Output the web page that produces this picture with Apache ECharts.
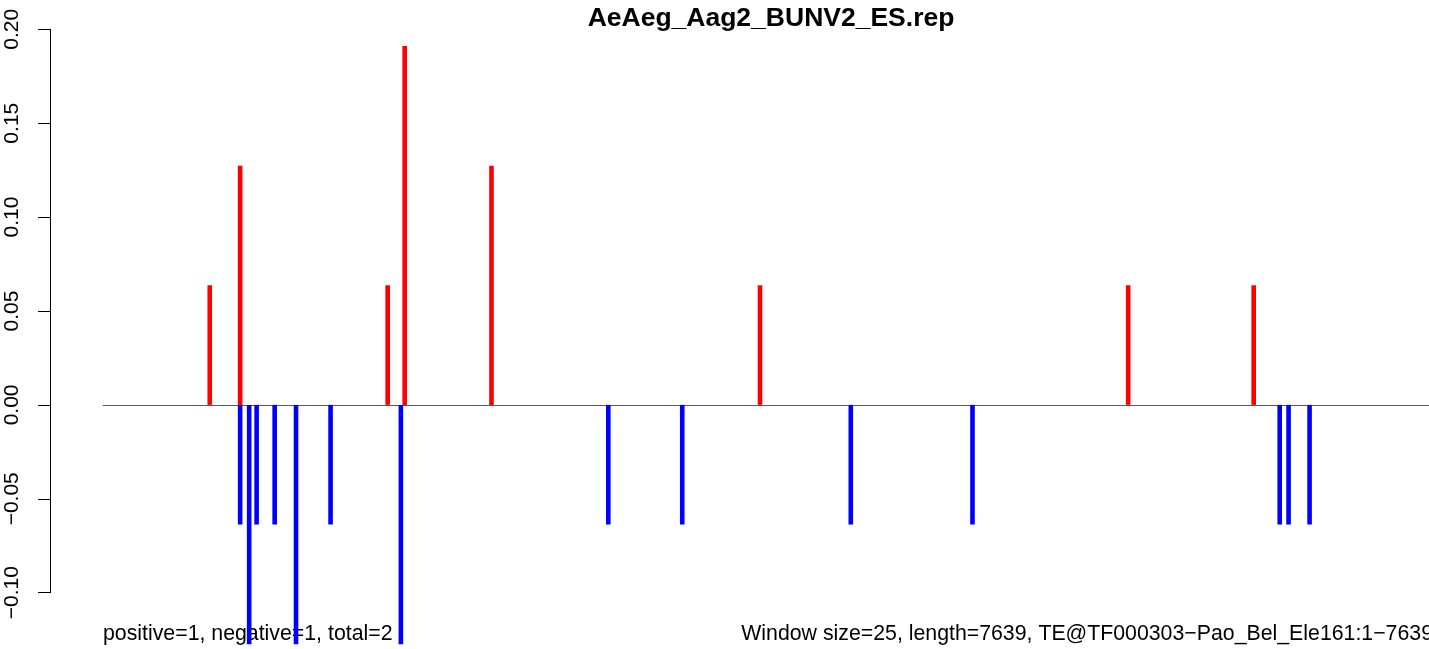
<!DOCTYPE html>
<html>
<head>
<meta charset="utf-8">
<script src="https://cdn.jsdelivr.net/npm/echarts@6/dist/echarts.min.js"></script>
<style>
html,body{margin:0;padding:0;background:#fff;}
#chart{width:1429px;height:649px;}
</style>
</head>
<body>
<div id="chart"></div>
<script>
// ---- data ----
const titleText = 'AeAeg_Aag2_BUNV2_ES.rep';
const leftNote = 'positive=1, negative=1, total=2';
const rightNote = 'Window size=25, length=7639, TE@TF000303\u2212Pao_Bel_Ele161:1\u22127639';
const seqLength = 7639;
const yTicks = [-0.10, -0.05, 0.00, 0.05, 0.10, 0.15, 0.20];
const redPos = [615, 790, 1640, 1738, 2238, 3785, 5906, 6629];
const redVal = [0.0637, 0.1274, 0.0637, 0.1911, 0.1274, 0.0637, 0.0637, 0.0637];
const bluePos = [790, 842, 885, 989, 1112, 1311, 1716, 2911, 3337, 4308, 5009, 6779, 6830, 6951];
const blueVal = [-0.0637, -0.1274, -0.0637, -0.0637, -0.1274, -0.0637, -0.1274,
                 -0.0637, -0.0637, -0.0637, -0.0637, -0.0637, -0.0637, -0.0637];

const FONT = 'Liberation Sans, Arial, Helvetica, sans-serif';
const chart = echarts.init(document.getElementById('chart'), null, {renderer: 'canvas'});

function pairs(xs, ys) { return xs.map((x, i) => [x, ys[i]]); }

chart.setOption({
  backgroundColor: '#ffffff',
  animation: false,
  title: {
    text: titleText,
    left: 766, top: 0, textAlign: 'center',
    textStyle: {fontFamily: FONT, fontSize: 26.5, fontWeight: 'bold', color: '#000'}
  },
  grid: {left: 103, right: -3, top: 29.3, bottom: 56.3, containLabel: false},
  xAxis: {
    type: 'value', min: 0, max: seqLength,
    axisLine: {show: true, onZero: true, lineStyle: {color: '#5a5a5a', width: 1}},
    axisTick: {show: false}, axisLabel: {show: false}, splitLine: {show: false}
  },
  yAxis: {
    type: 'value', min: yTicks[0], max: yTicks[yTicks.length - 1], interval: 0.05,
    offset: 53,
    axisLine: {show: true, onZero: false, lineStyle: {color: '#000', width: 1}},
    axisTick: {show: true, length: 12, lineStyle: {color: '#000', width: 1}},
    axisLabel: {
      show: true, rotate: 90, margin: 27,
      fontFamily: FONT, fontSize: 21, color: '#000',
      formatter: v => v.toFixed(2).replace('-', '\u2212')
    },
    splitLine: {show: false}
  },
  series: [
    {type: 'bar', name: 'positive', data: pairs(redPos, redVal), barWidth: 4.6, barGap: '-100%',
     clip: false, itemStyle: {color: '#ff0000'}},
    {type: 'bar', name: 'negative', data: pairs(bluePos, blueVal), barWidth: 4.6, barGap: '-100%',
     clip: false, itemStyle: {color: '#0000ff'}}
  ],
  graphic: [
    {type: 'text', left: 103, top: 624,
     style: {text: leftNote, font: '21.3px ' + FONT, fill: '#000'}},
    {type: 'text', right: -4, top: 624,
     style: {text: rightNote, font: '21.3px ' + FONT, fill: '#000'}}
  ]
});
</script>
</body>
</html>
